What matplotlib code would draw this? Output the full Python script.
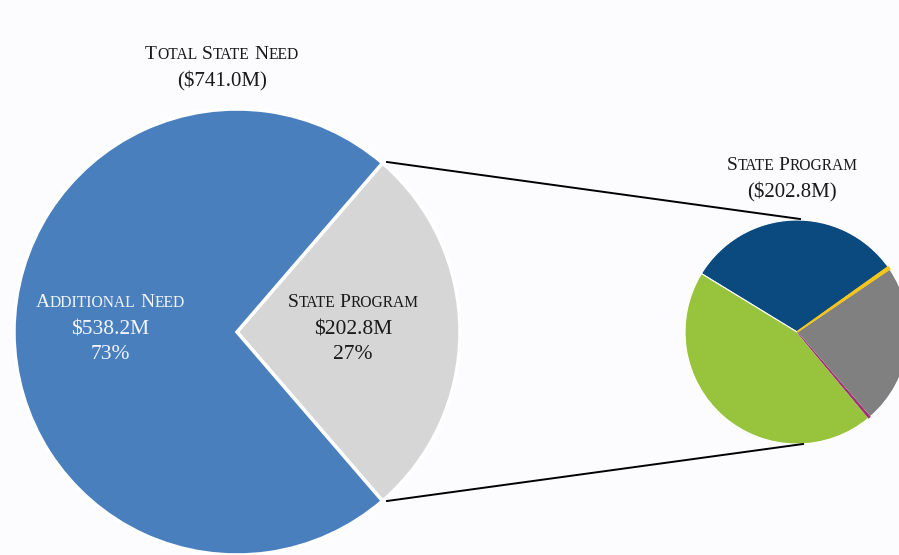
import matplotlib
matplotlib.use("Agg")
import matplotlib.pyplot as plt
import matplotlib.transforms as mtransforms

W, H = 899, 555

# total need split
total_labels = ["State Program", "Additional Need"]
total_values = [202.8, 538.2]
total_colors = ["#d6d6d6", "#4a7fbd"]

# state program breakdown ($M)
program_values = [63.7, 90.8, 0.6, 47.0, 0.7]
program_colors = ["#0b4a7f", "#97c43c", "#9c2f6e", "#808080", "#f5c518"]

bg = "#fcfcfe"
serif = ["Liberation Serif", "DejaVu Serif"]

fig = plt.figure(figsize=(W / 100, H / 100), dpi=100, facecolor=bg)
ax = fig.add_axes([0, 0, 1, 1])
ax.set_facecolor(bg)

big_c, big_r = (237, 555 - 332), 223
small_c, small_r = (797, 555 - 332), 112

total = sum(total_values)
big, _ = ax.pie(total_values, colors=total_colors, center=big_c, radius=big_r,
                startangle=-total_values[0] / total * 180, counterclock=True,
                wedgeprops=dict(edgecolor="white", linewidth=2.5))

small, _ = ax.pie(program_values, colors=program_colors, center=small_c, radius=small_r,
                  startangle=35.5, counterclock=True,
                  wedgeprops=dict(edgecolor="white", linewidth=0.8))
# the two slim slices get their own outline so they stay visible
for w, col, lw in zip(small, program_colors, [0, 0, 0.6, 0, 1.3]):
    if lw:
        w.set_edgecolor(col)
        w.set_linewidth(lw)
        w.set_zorder(5)

# connector lines between the two pies
ax.plot([387, 800], [555 - 162, 555 - 219], color="black", lw=1.4, zorder=1)
ax.plot([387, 803], [555 - 501, 555 - 444], color="black", lw=1.4, zorder=1)

ax.set_xlim(0, W)
ax.set_ylim(0, H)
ax.set_aspect("equal")
ax.axis("off")

renderer = fig.canvas.get_renderer()


def small_caps(x, y, s, size, color, ratio=0.8):
    """Center a string at (x, y) in small caps, built from pieces."""
    pieces = []
    for i, word in enumerate(s.split()):
        if i:
            pieces.append((None, size))
        pieces.append((word[0].upper(), size))
        if len(word) > 1:
            pieces.append((word[1:].upper(), size * ratio))
    texts, widths = [], []
    for txt, sz in pieces:
        if txt is None:
            texts.append(None)
            widths.append(0.25 * sz * 100 / 72)
            continue
        t = ax.text(x, y, txt, fontsize=sz, family=serif, color=color,
                    ha="left", va="baseline")
        texts.append(t)
        widths.append(t.get_window_extent(renderer).width)
    off = -sum(widths) / 2
    for t, w in zip(texts, widths):
        if t is not None:
            t.set_transform(mtransforms.offset_copy(ax.transData, fig=fig,
                                                    x=off, y=0, units="dots"))
        off += w


def line(x, y, s, size, color):
    ax.text(x, y, s, fontsize=size, family=serif, color=color,
            ha="center", va="baseline")


dark = "#1a1a1a"
light = "#f2f5fa"

small_caps(222, 555 - 59, "Total State Need", 14, dark)
line(222, 555 - 86, "($741.0M)", 15, dark)

small_caps(792, 555 - 170, "State Program", 14, dark)
line(792, 555 - 197, "($202.8M)", 15, dark)

small_caps(110, 555 - 307, "Additional Need", 14, light)
line(110, 555 - 334, "$538.2M", 15.5, light)
line(110, 555 - 359, "73%", 15.5, light)

small_caps(353, 555 - 307, "State Program", 14, dark)
line(353, 555 - 334, "$202.8M", 15.5, dark)
line(353, 555 - 359, "27%", 15.5, dark)

fig.savefig("out.png", dpi=100, facecolor=bg)
